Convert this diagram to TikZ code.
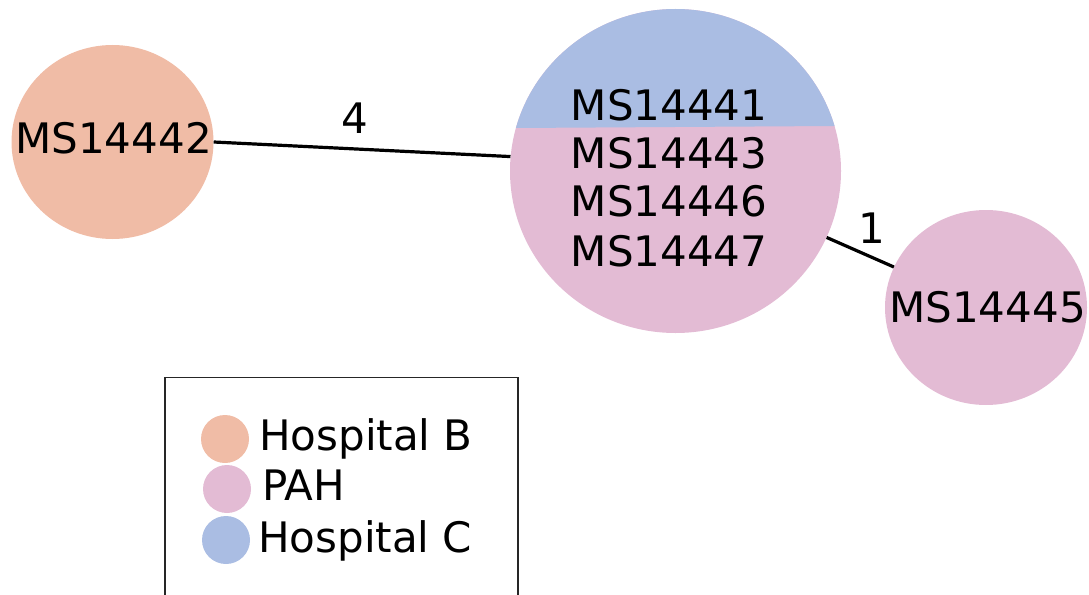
\documentclass[tikz,border=0pt]{standalone}
\usepackage{fontspec}
\setmainfont{DejaVu Sans}
\usetikzlibrary{shapes.geometric}
\definecolor{hospB}{HTML}{F0BCA6}
\definecolor{pah}{HTML}{E3BBD4}
\definecolor{hospC}{HTML}{AABDE3}
\begin{document}
\begin{tikzpicture}[x=1pt,y=-1pt,
  bubble/.style={ellipse,inner sep=0pt,draw=none},
  lbl/.style={font=\fontsize{42}{49}\selectfont,inner sep=0pt,anchor=base},
  edge/.style={line width=3.2pt,black},
  legdot/.style={circle,inner sep=0pt,minimum size=48pt,draw=none}]
\useasboundingbox (0,0) rectangle (1089,594);
% nodes
\node[bubble,fill=hospB,minimum width=202pt,minimum height=194pt] (L) at (112.5,142) {};
\node[bubble,fill=pah,minimum width=331pt,minimum height=324pt] (M) at (675.5,171) {};
\begin{scope}
  \clip (675.5,171) ellipse [x radius=165.5pt, y radius=162pt];
  \fill[hospC] (500,128.1) -- (850,125.9) -- (850,0) -- (500,0) -- cycle;
\end{scope}
\node[bubble,fill=pah,minimum width=202pt,minimum height=195pt] (R) at (986,307.5) {};
% edges
\draw[edge] (L.east) -- (M.175);
\draw[edge] (M) -- (R);
% edge labels
\node[lbl] (l4) at (354.5,133) {4};
\node[lbl] (l1) at (872,243) {1};
% node texts
\node[lbl] (t42) at (113.5,153) {MS14442};
\node[lbl] (t41) at (669,120) {MS14441};
\node[lbl] (t43) at (669,168) {MS14443};
\node[lbl] (t46) at (669,216) {MS14446};
\node[lbl] (t47) at (669,266) {MS14447};
\node[lbl] (t45) at (987.5,322) {MS14445};
% legend
\draw[line width=1.3pt,black!85] (165,600) -- (165,377.5) -- (518,377.5) -- (518,600);
\node[legdot,fill=hospB] (dB) at (225,439) {};
\node[legdot,fill=pah] (dP) at (227,489) {};
\node[legdot,fill=hospC] (dC) at (226,540) {};
\node[lbl,anchor=base west] (tB) at (259,450) {Hospital B};
\node[lbl,anchor=base west] (tP) at (262,500) {PAH};
\node[lbl,anchor=base west] (tC) at (258,552) {Hospital C};
\end{tikzpicture}
\end{document}
